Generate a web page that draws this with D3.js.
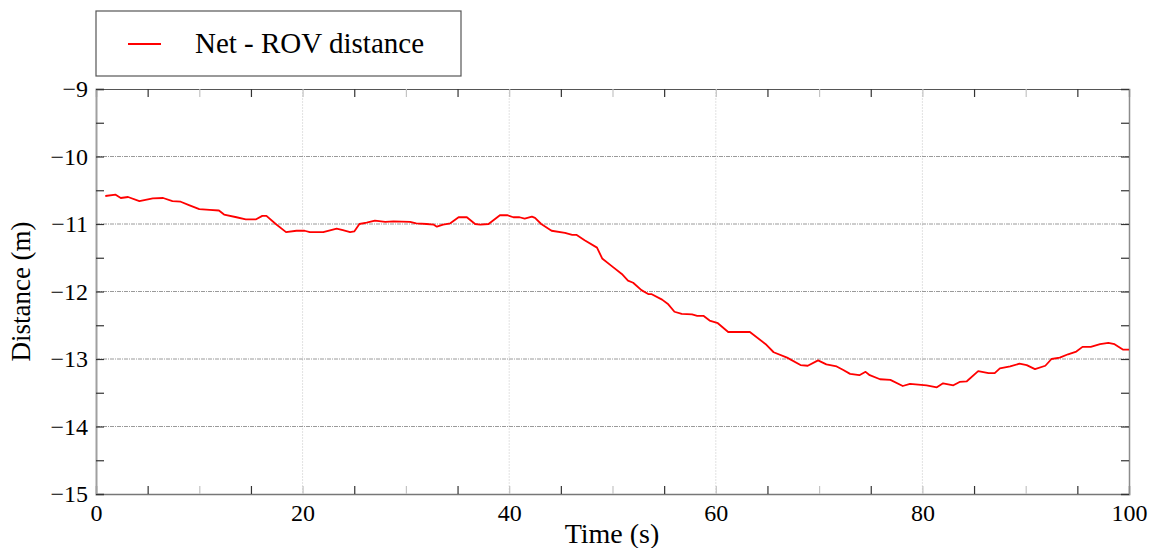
<!DOCTYPE html>
<html>
<head>
<meta charset="utf-8">
<script src="https://cdn.jsdelivr.net/npm/d3@7"></script>
<style>
  body { margin: 0; background: #fff; }
  svg { display: block; }
  svg text { font-family: "Liberation Serif", "Times New Roman", serif; }
</style>
</head>
<body>
<div class="chart-holder"></div>
<script>
// Net - ROV distance over time
const timeS = [0.9, 1.9, 2.4, 3.1, 4.2, 5.5, 6.5, 7.4, 8.2, 9.0, 10.0, 11.0, 11.9, 12.4, 13.6, 14.5, 15.5, 16.1, 16.5, 17.4,
  18.4, 19.4, 20.2, 20.7, 22.0, 23.3, 23.9, 24.6, 25.0, 25.5, 26.2, 27.0, 28.0, 28.8, 30.4, 31.0, 32.0, 32.7, 33.0, 33.6,
  34.3, 35.1, 35.9, 36.7, 37.2, 38.0, 39.1, 39.8, 40.4, 41.0, 41.5, 42.2, 42.5, 43.1, 44.1, 45.4, 46.1, 46.5, 47.3, 48.5,
  49.0, 49.9, 50.9, 51.5, 52.0, 52.8, 53.5, 53.8, 54.8, 55.4, 56.0, 56.7, 57.7, 58.2, 58.8, 59.4, 60.2, 61.2, 62.0, 63.3,
  64.9, 65.6, 66.9, 68.2, 68.9, 69.9, 70.7, 71.7, 72.3, 73.0, 73.9, 74.5, 74.9, 75.9, 76.9, 78.1, 78.8, 80.4, 81.4, 82.0,
  83.0, 83.6, 84.3, 85.4, 86.4, 87.0, 87.5, 88.5, 89.4, 90.1, 90.9, 91.9, 92.5, 93.3, 94.1, 94.9, 95.5, 96.3, 97.2, 98.0,
  98.6, 99.4, 100];
const distanceM = [-10.585, -10.566, -10.615, -10.60, -10.66, -10.62, -10.615, -10.66, -10.67, -10.72, -10.78, -10.79, -10.80, -10.86, -10.90, -10.93, -10.93, -10.88, -10.88, -11.0,
  -11.12, -11.10, -11.10, -11.12, -11.12, -11.07, -11.09, -11.12, -11.11, -11.0, -10.98, -10.95, -10.97, -10.96, -10.97, -10.99, -11.0, -11.01, -11.04, -11.01,
  -10.99, -10.90, -10.90, -11.0, -11.01, -11.0, -10.87, -10.87, -10.90, -10.90, -10.92, -10.89, -10.91, -11.0, -11.10, -11.13, -11.16, -11.16, -11.24, -11.35,
  -11.51, -11.62, -11.74, -11.84, -11.87, -11.98, -12.04, -12.04, -12.12, -12.19, -12.30, -12.33, -12.34, -12.36, -12.36, -12.43, -12.47, -12.60, -12.60, -12.60,
  -12.79, -12.90, -12.98, -13.09, -13.10, -13.02, -13.08, -13.11, -13.16, -13.22, -13.24, -13.19, -13.24, -13.30, -13.31, -13.40, -13.37, -13.39, -13.42, -13.36,
  -13.39, -13.34, -13.33, -13.18, -13.21, -13.21, -13.14, -13.11, -13.07, -13.09, -13.15, -13.10, -13.0, -12.98, -12.93, -12.89, -12.82, -12.82, -12.78, -12.76,
  -12.78, -12.86, -12.86];

const xTicks = d3.range(0, 101, 5);
const xLabels = [0, 20, 40, 60, 80, 100];
const yTicks = d3.range(-15, -8.9, 0.5);
const yLabels = [-15, -14, -13, -12, -11, -10, -9];
const seriesName = "Net - ROV distance";

function controller() {
  const width = 1157;
  const height = 548;
  const left = 96, right = 1129, top = 89, bottom = 494;

  const svg = d3.select(".chart-holder")
    .append("svg")
    .attr("width", width)
    .attr("height", height);

  const x = d3.scaleLinear().domain([0, 100]).range([left, right]);
  const y = d3.scaleLinear().domain([-15, -9]).range([bottom, top]);

  const fmt = d => String(d).replace("-", "\u2212");

  // grid lines
  svg.append("g")
    .selectAll("line")
    .data([20, 40, 60, 80])
    .join("line")
    .attr("x1", d => x(d)).attr("x2", d => x(d))
    .attr("y1", top).attr("y2", bottom)
    .attr("stroke", "#e2e2e2")
    .attr("stroke-width", 1)
    .attr("stroke-dasharray", "2,1");

  svg.append("g")
    .selectAll("line")
    .data([-14, -13, -12, -11, -10])
    .join("line")
    .attr("x1", left).attr("x2", right)
    .attr("y1", d => y(d)).attr("y2", d => y(d))
    .attr("stroke", "#9a9a9a")
    .attr("stroke-width", 1)
    .attr("stroke-dasharray", "4,1,1,1");

  // axes, ticks inward
  const tickColor = d => (d % 10 === 0 ? "#c4c4c4" : "#333");

  const gBottom = svg.append("g")
    .attr("transform", `translate(0,${bottom})`)
    .call(d3.axisBottom(x).tickValues(xTicks).tickSize(-8).tickPadding(10)
      .tickFormat(d => xLabels.includes(d) ? d : ""));
  const gTop = svg.append("g")
    .attr("transform", `translate(0,${top})`)
    .call(d3.axisTop(x).tickValues(xTicks).tickSize(-8).tickFormat(""));
  [gBottom, gTop].forEach(g => {
    g.selectAll(".tick line").attr("stroke", tickColor).attr("stroke-width", 1.2);
  });

  const gLeft = svg.append("g")
    .attr("transform", `translate(${left},0)`)
    .call(d3.axisLeft(y).tickValues(yTicks).tickSize(-8).tickPadding(8)
      .tickFormat(d => yLabels.includes(d) ? fmt(d) : ""));
  const gRight = svg.append("g")
    .attr("transform", `translate(${right},0)`)
    .call(d3.axisRight(y).tickValues(yTicks).tickSize(-8).tickFormat(""));
  [gLeft, gRight].forEach(g => {
    g.selectAll(".tick line").attr("stroke", "#333").attr("stroke-width", 1.2);
  });

  svg.selectAll(".domain").attr("stroke", "#8c8c8c").attr("stroke-width", 1.5);
  gTop.select(".domain").attr("stroke", "#555").attr("stroke-width", 1.2);
  gLeft.select(".domain").attr("stroke", "#a0a0a0").attr("stroke-width", 2);
  gBottom.select(".domain").attr("stroke", "#777").attr("stroke-width", 1.5);

  svg.selectAll(".tick text")
    .attr("fill", "#000")
    .style("font-family", "'Liberation Serif', 'Times New Roman', serif")
    .style("font-size", "24px");

  // the series
  const pts = timeS.map((t, i) => [t, distanceM[i]]);
  svg.append("path")
    .datum(pts)
    .attr("fill", "none")
    .attr("stroke", "#ff0000")
    .attr("stroke-width", 1.8)
    .attr("stroke-linejoin", "round")
    .attr("d", d3.line().x(d => x(d[0])).y(d => y(d[1])));

  // axis titles
  svg.append("text")
    .attr("x", 612)
    .attr("y", 543)
    .attr("text-anchor", "middle")
    .style("font-size", "28px")
    .text("Time (s)");

  svg.append("text")
    .attr("transform", `translate(30,${(top + bottom) / 2}) rotate(-90)`)
    .attr("text-anchor", "middle")
    .style("font-size", "27px")
    .text("Distance (m)");

  // legend
  const legend = svg.append("g");
  legend.append("rect")
    .attr("x", 96).attr("y", 11)
    .attr("width", 365).attr("height", 65)
    .attr("fill", "#fff")
    .attr("stroke", "#555")
    .attr("stroke-width", 1.2);
  legend.append("line")
    .attr("x1", 128).attr("x2", 161)
    .attr("y1", 44).attr("y2", 44)
    .attr("stroke", "#ff0000")
    .attr("stroke-width", 1.8);
  legend.append("text")
    .attr("x", 195).attr("y", 53)
    .style("font-family", "'Liberation Serif', 'Times New Roman', serif")
    .style("font-size", "29px")
    .text(seriesName);
}

controller();
</script>
</body>
</html>
